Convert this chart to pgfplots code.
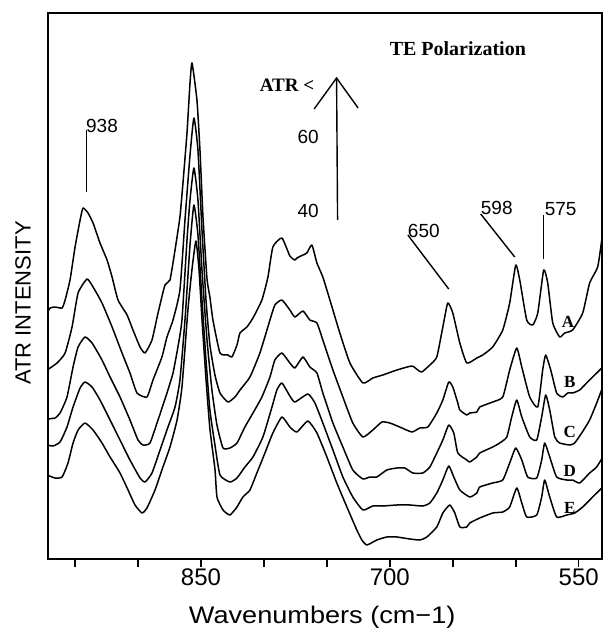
\documentclass[border=0pt]{standalone}
\usepackage{fontspec}
\setmainfont{Liberation Sans}
\newfontfamily\plotserif{Liberation Serif}
\newfontfamily\widesans[FakeStretch=1.13]{Liberation Sans}
\usepackage{pgfplots}
\pgfplotsset{compat=1.18}

\begin{document}
\begin{tikzpicture}
\begin{axis}[
    name=ax, scale only axis, width=277pt, height=273pt,
    x dir=reverse, xmin=531.5, xmax=971.5, ymin=0, ymax=546,
    xtick={550,600,...,950}, xticklabels={550,,,700,,,850,,},
    xtick pos=bottom, tick align=outside, major tick length=4pt,
    ytick=\empty,
    axis line style={line width=1pt},
    every tick/.style={black, line width=0.8pt},
    tick label style={font=\fontsize{12}{14}\selectfont},
    xticklabel style={yshift=2.5pt},
    /pgf/number format/assume math mode=true,
    xlabel={Wavenumbers (cm−1)},
    xlabel style={font=\widesans\fontsize{12}{14}\selectfont, at={(axis description cs:0.495,0)}, anchor=center, yshift=-29pt},
    ylabel={ATR INTENSITY},
    ylabel style={font=\fontsize{11}{13}\selectfont, at={(axis description cs:0,0.469)}, anchor=center, yshift=12.5pt},
    cycle list={{black, mark=none}},
    every axis plot/.append style={line width=0.75pt, line join=round, smooth, tension=0.3},
]
% A
\addplot coordinates {(972.2,246)(969.8,251)(965.9,252)(960.3,251)(957.9,259)(954.0,279)(950.0,312)(946.0,339)(943.7,351)(939.7,346)(935.7,336)(930.2,316)(924.6,299)(920.6,282)(915.9,259)(908.7,244)(904.0,229)(898.4,212)(894.4,206)(888.9,219)(884.1,246)(878.6,274)(874.6,279)(870.6,309)(866.7,342)(864.3,376)(861.1,426)(858.7,476)(857.1,496)(853.2,459)(850.8,409)(848.4,342)(845.2,280)(842.9,262)(840.5,239)(834.9,206)(828.6,204)(825.4,202)(821.4,214)(819.0,226)(813.5,232)(808.7,241)(801.6,259)(796.8,282)(792.9,312)(785.7,321)(779.4,303)(775.4,299)(773.8,301)(769.0,304)(765.9,306)(761.9,314)(757.9,296)(753.2,282)(747.6,259)(739.7,226)(731.7,196)(721.4,176)(713.5,181)(705.6,184)(694.4,189)(682.5,193)(677.8,189)(674.6,187)(668.2,194)(662.7,202)(657.9,232)(654.0,256)(650.0,246)(644.4,216)(638.9,196)(630.9,201)(626.2,204)(618.3,212)(610.3,229)(604.8,256)(600.0,294)(596.8,279)(591.3,239)(586.5,234)(582.5,246)(577.8,289)(574.6,276)(570.6,236)(565.1,222)(561.1,226)(554.8,229)(546.8,246)(541.3,276)(534.9,292)(531.7,319)};
% B
\addplot coordinates {(972.2,189)(964.3,196)(957.9,206)(952.4,232)(947.6,266)(940.5,280)(935.7,272)(928.6,256)(920.6,232)(912.7,206)(906.4,186)(900.8,166)(892.9,162)(888.1,179)(881.0,202)(877.0,222)(872.2,239)(866.7,269)(862.7,339)(858.7,404)(855.6,441)(852.4,409)(849.2,329)(846.0,259)(842.9,214)(838.9,184)(834.9,166)(828.6,157)(823.0,162)(819.0,169)(811.1,182)(803.2,206)(795.2,239)(791.3,254)(785.7,259)(779.4,249)(775.4,242)(769.0,248)(763.5,239)(757.9,236)(753.2,219)(745.2,189)(737.3,162)(729.4,136)(721.4,122)(713.5,129)(706.3,137)(700.0,136)(692.1,132)(682.5,127)(676.2,131)(669.8,132)(662.7,146)(657.9,159)(653.2,177)(650.0,172)(646.0,156)(644.4,149)(638.9,144)(636.5,146)(630.9,147)(628.6,152)(618.3,157)(610.3,162)(604.8,189)(599.2,211)(595.2,192)(588.9,162)(582.5,152)(578.6,189)(576.2,204)(572.2,189)(567.5,166)(562.7,162)(558.7,166)(554.8,166)(549.2,169)(543.7,176)(538.9,182)(533.3,189)(530.9,192)};
% C
\addplot coordinates {(972.2,140)(965.9,141)(961.9,146)(956.4,162)(951.6,192)(947.6,212)(942.1,222)(936.5,216)(928.6,199)(922.2,182)(914.3,162)(906.4,139)(900.0,119)(896.0,114)(890.5,116)(884.1,139)(877.0,166)(872.2,186)(868.3,212)(865.1,239)(861.1,319)(858.7,359)(855.6,391)(852.4,359)(849.2,289)(845.2,219)(841.3,169)(837.3,134)(832.5,111)(827.0,111)(821.4,116)(815.1,132)(808.7,146)(801.6,162)(795.2,182)(791.3,199)(785.7,206)(779.4,196)(775.4,191)(769.0,202)(763.5,192)(757.9,186)(753.2,166)(745.2,136)(737.3,112)(729.4,89)(721.4,80)(715.9,82)(710.3,82)(702.4,89)(694.4,91)(688.1,91)(681.7,86)(673.8,86)(668.2,92)(662.7,106)(657.9,119)(653.2,134)(649.2,126)(646.0,106)(638.9,99)(636.5,97)(630.9,102)(628.6,106)(618.3,112)(612.7,116)(607.1,122)(603.2,142)(599.2,159)(595.2,142)(588.9,122)(583.3,119)(579.4,142)(576.2,164)(573.0,149)(569.0,122)(565.1,116)(557.1,114)(553.2,116)(547.6,126)(541.3,139)(535.7,156)(530.9,172)};
% D
\addplot coordinates {(972.2,114)(967.5,113)(961.9,117)(956.4,132)(951.6,152)(946.0,171)(942.1,177)(936.5,172)(930.2,159)(922.2,139)(914.3,119)(906.4,99)(898.4,81)(894.4,77)(888.9,86)(882.5,109)(876.2,132)(870.6,152)(866.7,179)(862.7,239)(858.7,314)(855.6,354)(852.4,324)(849.2,259)(846.0,199)(842.9,149)(838.9,114)(834.9,84)(827.0,77)(821.4,81)(815.1,92)(808.7,102)(800.8,122)(793.6,152)(789.7,169)(785.7,176)(779.4,163)(775.4,157)(765.1,165)(759.5,156)(753.2,136)(745.2,109)(737.3,82)(729.4,62)(721.4,49)(713.5,53)(705.6,53)(694.4,54)(684.1,54)(673.8,53)(668.2,56)(662.7,66)(657.9,79)(653.2,93)(649.2,82)(644.4,69)(636.5,62)(630.9,66)(628.6,72)(618.3,76)(610.3,79)(604.8,96)(600.0,111)(595.2,99)(590.5,82)(583.3,81)(579.4,99)(577.0,116)(573.0,102)(567.5,82)(559.5,79)(554.8,79)(549.2,76)(541.3,86)(535.7,92)(530.9,102)};
% E
\addplot coordinates {(972.2,84)(965.9,81)(960.3,82)(955.6,96)(951.6,116)(947.6,129)(942.1,136)(935.7,129)(928.6,116)(922.2,102)(914.3,86)(907.9,69)(902.4,54)(896.8,46)(892.9,51)(886.5,69)(880.2,92)(874.6,112)(869.0,139)(865.1,172)(860.3,250)(857.1,290)(854.0,318)(851.6,290)(849.2,240)(846.0,180)(842.9,130)(838.9,90)(837.3,62)(832.5,49)(827.0,44)(821.4,52)(816.7,62)(811.1,69)(805.6,86)(799.2,106)(792.9,126)(785.7,142)(779.4,132)(773.8,127)(765.1,138)(757.9,126)(750.0,102)(742.1,76)(734.1,52)(726.2,29)(722.2,19)(718.2,14)(710.3,19)(702.4,22)(694.4,22)(684.1,20)(676.2,19)(670.6,22)(662.7,32)(657.9,46)(652.4,54)(648.4,46)(644.4,32)(638.9,32)(636.5,36)(628.6,41)(618.3,46)(610.3,47)(604.8,52)(599.2,71)(595.2,56)(591.3,42)(583.3,44)(579.4,62)(577.0,79)(573.0,62)(567.5,42)(559.5,44)(553.2,46)(546.8,52)(538.9,62)(530.9,72)};

% peak markers
\draw[line width=0.7pt] (axis cs:941,367) -- (axis cs:941,429);
\node[font=\fontsize{9.5}{11}\selectfont] at (axis cs:928.6,433) {938};
\draw[line width=0.7pt] (axis cs:685.7,324) -- (axis cs:653.2,270);
\node[font=\fontsize{9.5}{11}\selectfont] at (axis cs:673.0,328) {650};
\draw[line width=0.7pt] (axis cs:627.8,345) -- (axis cs:600.8,302);
\node[font=\fontsize{9.5}{11}\selectfont] at (axis cs:615.1,351) {598};
\draw[line width=0.7pt] (axis cs:577.8,344) -- (axis cs:577.8,300);
\node[font=\fontsize{9.5}{11}\selectfont] at (axis cs:564.3,350) {575};

% ATR angle arrow
\draw[line width=0.7pt] (axis cs:741.5,339) -- (axis cs:742.3,481);
\draw[line width=0.7pt] (axis cs:760.1,450) -- (axis cs:742.3,481) -- (axis cs:725.2,451);
\node[font=\plotserif\bfseries\fontsize{9.5}{11}\selectfont] at (axis cs:781.7,474) {ATR <};
\node[font=\fontsize{9.5}{11}\selectfont] at (axis cs:764.8,422) {60};
\node[font=\fontsize{9.5}{11}\selectfont] at (axis cs:764.8,348) {40};
\node[font=\plotserif\bfseries\fontsize{10}{12}\selectfont] at (axis cs:646.0,510) {TE Polarization};

% curve labels
\node[font=\plotserif\bfseries\fontsize{8.5}{10}\selectfont] at (axis cs:558.4,237) {A};
\node[font=\plotserif\bfseries\fontsize{8.5}{10}\selectfont] at (axis cs:557.1,177) {B};
\node[font=\plotserif\bfseries\fontsize{8.5}{10}\selectfont] at (axis cs:557.1,127) {C};
\node[font=\plotserif\bfseries\fontsize{8.5}{10}\selectfont] at (axis cs:557.1,88) {D};
\node[font=\plotserif\bfseries\fontsize{8.5}{10}\selectfont] at (axis cs:557.1,51) {E};
\end{axis}
\draw[black, line width=1.1pt] (ax.south west) rectangle (ax.north east);
\pgfresetboundingbox
\path[use as bounding box] ([xshift=-24pt,yshift=-37pt]ax.south west) rectangle ([xshift=0.8pt,yshift=6.5pt]ax.north east);
\end{tikzpicture}
\end{document}
